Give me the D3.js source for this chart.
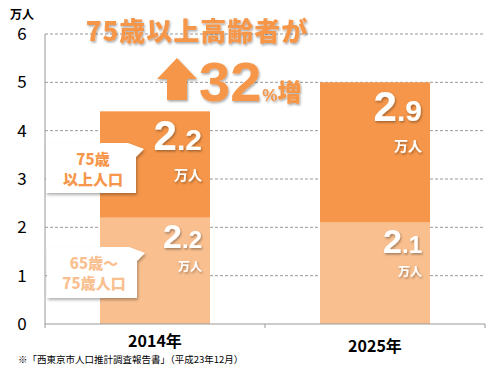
<!DOCTYPE html>
<html>
<head>
<meta charset="utf-8">
<script src="https://cdn.jsdelivr.net/npm/d3@7"></script>
<style>
  body { margin: 0; background: #fff; }
</style>
</head>
<body>
<div id="chart"></div>
<script>
const years = ["2014年", "2025年"];
const age65to74 = [2.2, 2.1];
const age75plus = [2.2, 2.9];
const yTicks = [0, 1, 2, 3, 4, 5, 6];

const width = 500, height = 375;
const margin = { top: 34, right: 15, bottom: 51, left: 45 };
const jp = "'Noto Sans CJK JP', 'Noto Sans', sans-serif";
const latin = "'Liberation Sans', Arial, sans-serif";

const svg = d3.select("#chart").append("svg")
    .attr("width", width).attr("height", height)
    .style("font-family", jp);

const x = d3.scaleBand()
    .domain(years)
    .range([margin.left, width - margin.right])
    .paddingInner(0.5).paddingOuter(0.25);

const y = d3.scaleLinear()
    .domain([0, 6])
    .range([height - margin.bottom, margin.top]);

const dark = "#f5964a", light = "#f9bf8f";

// grid
svg.append("g")
    .selectAll("line")
    .data(yTicks.filter(d => d > 0))
    .join("line")
    .attr("x1", margin.left).attr("x2", width - margin.right)
    .attr("y1", d => y(d)).attr("y2", d => y(d))
    .attr("stroke", "#999").attr("stroke-dasharray", "3,2");

// y axis line
svg.append("line")
    .attr("x1", margin.left).attr("x2", margin.left)
    .attr("y1", y(6)).attr("y2", y(0))
    .attr("stroke", "#999");

svg.append("g")
    .selectAll("text")
    .data(yTicks)
    .join("text")
    .attr("x", 22).attr("y", d => y(d) + 6)
    .attr("text-anchor", "middle")
    .attr("font-size", 17)
    .text(d => d);

svg.append("text")
    .attr("x", 10).attr("y", 19)
    .attr("font-size", 12).attr("font-weight", "bold")
    .text("万人");

const defs = svg.append("defs");
const sh = defs.append("filter").attr("id", "sh").attr("x", "-20%").attr("y", "-20%").attr("width", "140%").attr("height", "140%");
sh.append("feDropShadow").attr("dx", 1).attr("dy", 1.5).attr("stdDeviation", 1)
    .attr("flood-color", "#000").attr("flood-opacity", 0.35);
const sh2 = defs.append("filter").attr("id", "sh2").attr("x", "-20%").attr("y", "-20%").attr("width", "140%").attr("height", "140%");
sh2.append("feDropShadow").attr("dx", 1).attr("dy", 2).attr("stdDeviation", 1.5)
    .attr("flood-color", "#000").attr("flood-opacity", 0.3);

// bars
const stack = years.map((d, i) => ({ year: d, low: age65to74[i], high: age75plus[i] }));

svg.append("g").selectAll("rect")
    .data(stack).join("rect")
    .attr("x", d => x(d.year)).attr("width", x.bandwidth())
    .attr("y", d => y(d.low)).attr("height", d => y(0) - y(d.low))
    .attr("fill", light);

svg.append("g").selectAll("rect")
    .data(stack).join("rect")
    .attr("x", d => x(d.year)).attr("width", x.bandwidth())
    .attr("y", d => y(d.low + d.high)).attr("height", d => y(d.low) - y(d.low + d.high))
    .attr("fill", dark);

// x axis
svg.append("line")
    .attr("x1", margin.left).attr("x2", width - margin.right)
    .attr("y1", y(0)).attr("y2", y(0))
    .attr("stroke", "#999");
svg.append("g").selectAll("line")
    .data([margin.left, (margin.left + width - margin.right) / 2, width - margin.right])
    .join("line")
    .attr("x1", d => d).attr("x2", d => d)
    .attr("y1", y(0)).attr("y2", y(0) + 4)
    .attr("stroke", "#999");

svg.append("g").selectAll("text")
    .data(years).join("text")
    .attr("x", d => x(d) + x.bandwidth() / 2)
    .attr("y", (d, i) => 347 + i * 5)
    .attr("text-anchor", "middle")
    .attr("font-size", 16).attr("font-weight", "bold")
    .text(d => d);

// value labels
function valueLabel(cx, base, v, big, small, unit, gap) {
    const s = v.toFixed(1).split(".");
    const t = svg.append("text")
        .attr("x", cx).attr("y", base)
        .attr("text-anchor", "end")
        .attr("fill", "#fff").attr("font-weight", "bold")
        .style("font-family", latin)
        .attr("filter", "url(#sh)");
    t.append("tspan").attr("font-size", big).text(s[0]);
    t.append("tspan").attr("font-size", small).text("." + s[1]);
    svg.append("text")
        .attr("x", cx).attr("y", base + gap)
        .attr("text-anchor", "end")
        .attr("fill", "#fff").attr("font-weight", "bold")
        .attr("font-size", unit)
        .attr("filter", "url(#sh)")
        .text("万人");
}
stack.forEach((d, i) => {
    const rx = x(d.year) + x.bandwidth() - 8;
    const topY = y(d.low + d.high);
    valueLabel(rx, topY + 39, d.high, 42, 30, 14, 30);
    valueLabel(rx, y(d.low) + 30, d.low, 34, 24, 12, 23);
});

// callouts
function callout(x0, y0, w, h, lines, color) {
    const tipX = x0 + w + 8, tipY = y0 + 6;
    svg.append("path")
        .attr("d", `M${x0},${y0} H${x0 + w - 8} L${tipX},${tipY} L${x0 + w},${y0 + 14} V${y0 + h} H${x0} Z`)
        .attr("fill", "#fff").attr("filter", "url(#sh2)");
    svg.append("g").selectAll("text")
        .data(lines).join("text")
        .attr("x", x0 + w / 2 + 2)
        .attr("y", (d, i) => y0 + 22 + i * 20)
        .attr("text-anchor", "middle")
        .attr("fill", color).attr("font-weight", "900")
        .attr("font-size", 15)
        .text(d => d);
}
callout(46, 143, 90, 50, ["75歳", "以上人口"], dark);
callout(47, 247, 90, 51, ["65歳～", "75歳人口"], light);

// headline
svg.append("text")
    .attr("x", 197).attr("y", 41)
    .attr("text-anchor", "middle")
    .attr("fill", dark).attr("font-weight", "900")
    .attr("font-size", 26)
    .attr("letter-spacing", 1)
    .attr("filter", "url(#sh)")
    .text("75歳以上高齢者が");

svg.append("path")
    .attr("d", "M177,58 L197,79 L187,79 L187,100 L167,100 L167,79 L157,79 Z")
    .attr("fill", dark).attr("filter", "url(#sh)");

const pct = svg.append("text")
    .attr("x", 199).attr("y", 101)
    .attr("fill", dark).attr("font-weight", "bold")
    .style("font-family", latin)
    .attr("filter", "url(#sh)");
pct.append("tspan").attr("font-size", 56).text("32");
pct.append("tspan").attr("font-size", 17).attr("dx", 1).text("%");
pct.append("tspan").attr("font-size", 24).style("font-family", jp).attr("font-weight", "900").text("増");

// footnote
svg.append("text")
    .attr("x", 18).attr("y", 363)
    .attr("font-size", 9.5)
    .text("※「西東京市人口推計調査報告書」（平成23年12月）");
</script>
</body>
</html>
